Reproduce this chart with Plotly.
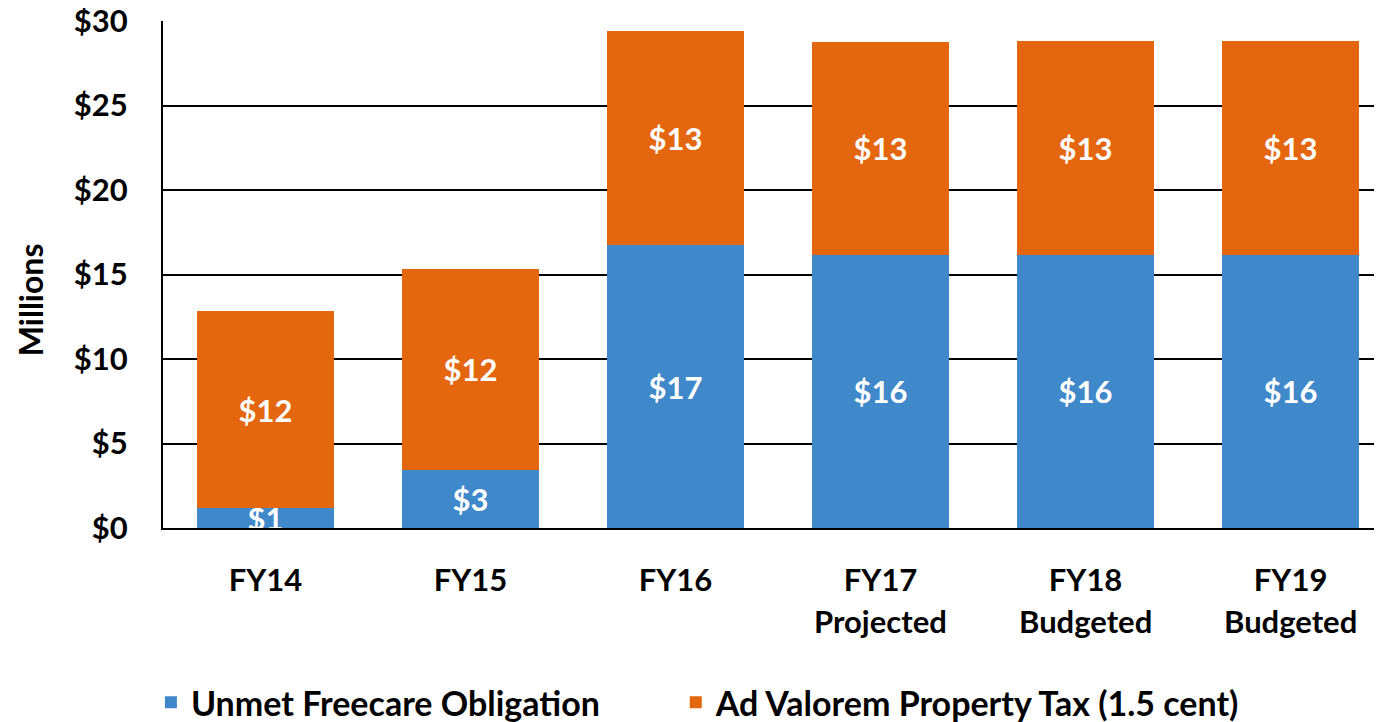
import plotly.graph_objects as go

categories = ["FY14", "FY15", "FY16", "FY17", "FY18", "FY19"]
tick_line1 = ["FY14", "FY15", "FY16", "FY17", "FY18", "FY19"]
tick_line2 = ["", "", "", "Projected", "Budgeted", "Budgeted"]
unmet_freecare = [1.18, 3.45, 16.72, 16.18, 16.18, 16.18]
ad_valorem = [11.64, 11.9, 12.69, 12.58, 12.64, 12.64]
y_ticks = [0, 5, 10, 15, 20, 25, 30]
y_ticklabels = ["$0", "$5", "$10", "$15", "$20", "$25", "$30"]

FONT = "Lato"
FS = 31

fig = go.Figure()
fig.add_trace(go.Bar(
    x=categories, y=unmet_freecare, name="Unmet Freecare Obligation",
    marker=dict(color="#3F88CA", line=dict(width=0)),
    texttemplate="$%{y:.0f}", textposition="inside", insidetextanchor="middle",
    textangle=0, constraintext="none", legend="legend",
    textfont=dict(family=FONT, size=FS, color="white", weight=700),
))
fig.add_trace(go.Bar(
    x=categories, y=ad_valorem, name="Ad Valorem Property Tax (1.5 cent)",
    marker=dict(color="#E4670F", line=dict(width=0)),
    texttemplate="$%{y:.0f}", textposition="inside", insidetextanchor="middle",
    textangle=0, constraintext="none", legend="legend2",
    textfont=dict(family=FONT, size=FS, color="white", weight=700),
))

annotations = []
for c, t in zip(categories, tick_line2):
    if t:
        annotations.append(dict(
            x=c, xref="x", y=-0.183, yref="paper", text=t, showarrow=False,
            xanchor="center", yanchor="middle",
            font=dict(family=FONT, size=FS, color="black", weight=700)))
annotations.append(dict(
    x=-0.108, xref="paper", y=0.45, yref="paper", text="Millions", showarrow=False,
    textangle=-90, xanchor="center", yanchor="middle",
    font=dict(family=FONT, size=32, color="black", weight=700)))

legend_common = dict(orientation="h", xref="container", yref="container",
                     y=0.027, xanchor="left", yanchor="middle",
                     bgcolor="rgba(0,0,0,0)",
                     font=dict(family=FONT, size=34, color="black", weight=700))

fig.update_layout(
    width=1374, height=714,
    margin=dict(l=155, r=0, t=13, b=194),
    barmode="stack", bargap=0.332,
    plot_bgcolor="white", paper_bgcolor="white",
    font=dict(family=FONT, size=FS, color="black", weight=700),
    showlegend=True,
    legend=dict(x=0.104, **legend_common),
    legend2=dict(x=0.486, **legend_common),
    annotations=annotations,
    xaxis=dict(
        range=[-0.5, 5.446], tickvals=categories, ticktext=tick_line1,
        showline=True, linecolor="black", linewidth=2, showgrid=False,
        ticks="", ticklabelstandoff=24, automargin=False,
        tickfont=dict(family=FONT, size=FS, color="black", weight=700),
    ),
    yaxis=dict(
        range=[0, 30], tickvals=y_ticks, ticktext=y_ticklabels,
        showgrid=True, gridcolor="black", gridwidth=2,
        showline=True, linecolor="black", linewidth=2, zeroline=False,
        ticks="", ticklabelstandoff=27, automargin=False,
        ticklabeloverflow="allow",
        tickfont=dict(family=FONT, size=FS, color="black", weight=700),
    ),
)

fig.write_html("out.html")
